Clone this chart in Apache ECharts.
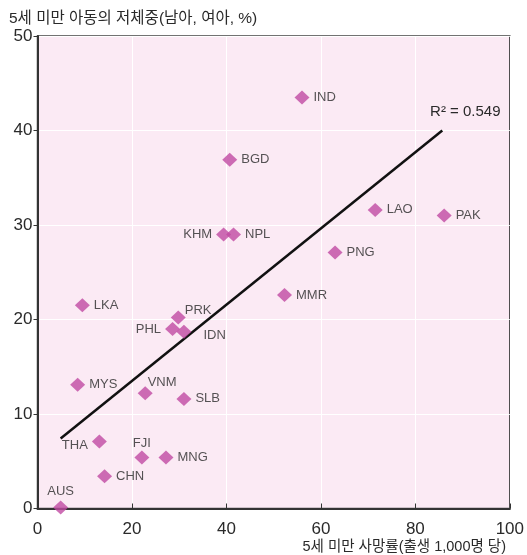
<!DOCTYPE html>
<html><head><meta charset="utf-8">
<script src="https://cdn.jsdelivr.net/npm/echarts@6/dist/echarts.min.js"></script>
<style>html,body{margin:0;padding:0;background:#fff}#c{width:527px;height:555px}</style>
</head><body><div id="c"></div>
<script>
const countries = ['IND','BGD','LAO','PAK','KHM','NPL','PNG','MMR','LKA','PRK','PHL','IDN','MYS','VNM','SLB','THA','FJI','MNG','CHN','AUS'];
const mortality = [56.0,40.7,71.5,86.1,39.4,41.5,63.0,52.3,9.5,29.8,28.6,31.0,8.5,22.8,31.0,13.1,22.1,27.2,14.2,4.9];
const underweight = [43.5,36.9,31.6,31.0,29.0,29.0,27.1,22.6,21.5,20.2,19.0,18.7,13.1,12.2,11.6,7.1,5.4,5.4,3.4,0.1];
const trendX = [4.9, 85.7];
const trendY = [7.4, 40.0];
const xTicks = [0,20,40,60,80,100];
const yTicks = [0,10,20,30,40,50];
const yTitle = '5세 미만 아동의 저체중(남아, 여아, %)';
const xTitle = '5세 미만 사망률(출생 1,000명 당)';
const r2Text = 'R² = 0.549';

// label placement (style only)
const labelStyle = {
  KHM:{position:'left'}, PHL:{position:'left'}, THA:{position:'left',offset:[0,4]},
  PRK:{position:'right',offset:[-5,-7]}, IDN:{position:'right',offset:[8,4]},
  VNM:{position:'right',offset:[-9,-11]}, FJI:{position:'top',offset:[0,3]},
  AUS:{position:'top',offset:[0,1]}
};
const FONT = 'Liberation Sans, Arial, Noto Sans CJK KR, sans-serif';
const TXT = '#2a2a2a';
const pts = countries.map((c,i)=>{
  const d = {name:c, value:[mortality[i], underweight[i]]};
  if (labelStyle[c]) d.label = labelStyle[c];
  return d;
});
const last = trendX.length-1;
const chart = echarts.init(document.getElementById('c'), null, {renderer:'canvas'});
chart.setOption({
  animation:false,
  title:[
    {text:yTitle,left:4,top:6,textStyle:{fontFamily:FONT,fontSize:15.5,fontWeight:'normal',color:TXT}},
    {text:xTitle,right:16,top:535,textStyle:{fontFamily:FONT,fontSize:14.5,fontWeight:'normal',color:TXT}}
  ],
  grid:{left:37.5,top:36,right:14,bottom:46.5,show:true,backgroundColor:'#fbeaf4',borderColor:'#444',borderWidth:1.5},
  xAxis:{type:'value',min:xTicks[0],max:xTicks[xTicks.length-1],interval:20,
    axisLine:{show:true,onZero:false,lineStyle:{color:'#333',width:2}},
    axisTick:{show:true,inside:true,length:5,lineStyle:{color:'#333'}},
    axisLabel:{color:TXT,fontSize:17,fontFamily:FONT,margin:12},
    splitLine:{show:true,lineStyle:{color:'#ffffff',width:1}}},
  yAxis:{type:'value',min:yTicks[0],max:yTicks[yTicks.length-1],interval:10,
    axisLine:{show:true,onZero:false,lineStyle:{color:'#333',width:2}},
    axisTick:{show:true,inside:false,length:4,lineStyle:{color:'#333'}},
    axisLabel:{color:TXT,fontSize:17,fontFamily:FONT,margin:5},
    splitLine:{show:true,lineStyle:{color:'#ffffff',width:1}}},
  series:[
    {type:'line',data:trendX.map((x,i)=>[x,trendY[i]]),
      symbol:'none',lineStyle:{color:'#111',width:2.5},z:2,silent:true,
      markPoint:{symbol:'circle',symbolSize:0,silent:true,
        data:[{coord:[trendX[last],trendY[last]],
          label:{show:true,formatter:r2Text,position:'top',offset:[23,-6],color:TXT,fontSize:15,fontFamily:FONT}}]}},
    {type:'scatter',data:pts,symbol:'diamond',symbolSize:[15,14],
      itemStyle:{color:'#c04aa2'},z:3,
      label:{show:true,position:'right',formatter:'{b}',color:TXT,fontSize:13,fontFamily:FONT,distance:4}}
  ]
});
</script></body></html>
